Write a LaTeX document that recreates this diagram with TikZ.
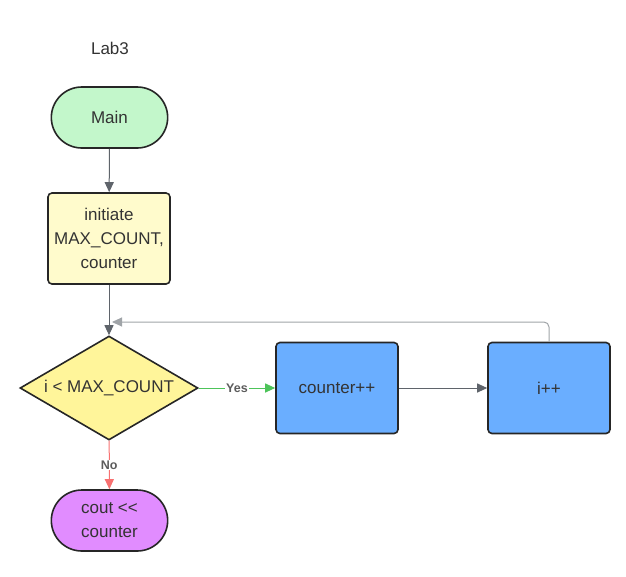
\documentclass[tikz,border=0pt]{standalone}
\usepackage{fontspec}
\setmainfont{Liberation Sans}
\usetikzlibrary{arrows.meta,shapes.geometric,shapes.misc}
\definecolor{txt}{HTML}{333333}
\definecolor{edgegray}{HTML}{5F646B}
\definecolor{loopgray}{HTML}{A0A4A8}
\definecolor{startgreen}{HTML}{C3F7CB}
\definecolor{paleyellow}{HTML}{FFFBCC}
\definecolor{condyellow}{HTML}{FFF59A}
\definecolor{stepblue}{HTML}{6AAEFF}
\definecolor{endpurple}{HTML}{E18CFF}
\definecolor{yesgreen}{HTML}{4DC45A}
\definecolor{nored}{HTML}{F87171}
\tikzset{
  every node/.style={text=txt,font=\fontsize{17}{24}\selectfont},
  terminal/.style={rounded rectangle,draw=black!85,line width=1.6pt,minimum width=123pt,minimum height=61pt,align=center},
  stepbox/.style={rectangle,rounded corners=4pt,draw=black!85,line width=1.6pt,minimum width=122pt,minimum height=91pt,align=center},
  decision/.style={diamond,draw=black!85,line width=1.6pt,aspect=1.71,inner sep=0pt,minimum width=178pt,minimum height=104pt,fill=condyellow},
  flow/.style={color=edgegray,line width=1pt,-{Triangle[length=10pt,width=9pt]}},
  tag/.style={font=\bfseries\fontsize{12.5}{14}\selectfont,text=txt!80,fill=white,inner sep=1pt},
}
\begin{document}
\begin{tikzpicture}[x=1pt,y=-1pt]
    \useasboundingbox (0,0) rectangle (626,576);
    \node (title) at (110,48) {Lab3};
    \node[terminal,fill=startgreen] (main) at (109.5,117.5) {Main};
    \node[stepbox,fill=paleyellow] (init) at (109,238.5) {initiate\\MAX\_COUNT,\\counter};
    \node[decision] (cond) at (109,388) {i < MAX\_COUNT};
    \node[stepbox,fill=stepblue] (count) at (337,388) {counter++};
    \node[stepbox,fill=stepblue] (inc) at (549,388) {i++};
    \node[terminal,fill=endpurple] (out) at (109.5,520.5) {cout <{}<\\counter};
    \coordinate (back) at (112,322);
    \path [flow](main) edge (init);
    \path [flow](init) edge (cond);
    \path [flow,color=yesgreen](cond) edge node[tag]{Yes} (count);
    \path [flow](count) edge (inc);
    \path [flow,color=nored](cond) edge node[tag]{No} (out);
    \draw [flow,color=loopgray,rounded corners=5pt](inc.north) |- (back);
\end{tikzpicture}
\end{document}
